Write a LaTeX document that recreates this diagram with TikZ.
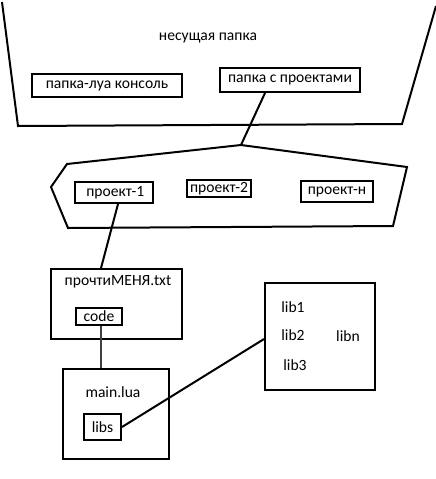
\documentclass[tikz,border=0pt]{standalone}
\usepackage{fontspec}
\setmainfont{Carlito}
\begin{document}
\begin{tikzpicture}[x=0.75pt,y=-0.75pt,
  line width=1.5pt, line join=miter,
  box/.style={draw=black, line width=1.5pt, inner sep=0pt, font=\fontsize{11.7}{14}\selectfont},
  lbl/.style={inner sep=0pt, font=\fontsize{11.7}{14}\selectfont},
  conn/.style={draw=black, line width=1.5pt}]
\useasboundingbox (0,0) rectangle (436,479);
% outer carrier folder (trapezoid)
\draw (2,2) -- (18,126) -- (402,124) -- (436,6);
\node[lbl] (title) at (208,38) {несущая папка};
\node[box, minimum width=112.5pt, minimum height=17.25pt] (console) at (107,85.5) {папка-луа консоль};
\node[box, minimum width=105pt, minimum height=18pt] (projects) at (290,80) {папка с проектами};
% projects folder (hexagon)
\coordinate (htop) at (241,145);
\draw (htop) -- (407,167) -- (393,226) -- (68,228) -- (51,187) -- (67,164) -- cycle;
\node[box, minimum width=58.5pt, minimum height=15.75pt] (p1) at (114,192.5) {\hspace*{2pt}проект-1};
\node[box, minimum width=48pt, minimum height=12.75pt] (p2) at (219,188.5) {проект-2};
\node[box, minimum width=54pt, minimum height=15.75pt] (pn) at (337,191.5) {проект-н};
\draw[conn] ([xshift=-18.75pt]projects.south) -- (htop);
% readme
\node[box, minimum width=98.25pt, minimum height=52.5pt] (readme) at (116.5,304) {};
\node[lbl] (readmet) at (118,282) {прочтиМЕНЯ.txt};
\node[box, minimum width=34.5pt, minimum height=12.75pt] (code) at (99,316.5) {code};
\draw[conn] ([xshift=3pt]p1.south) -- ([xshift=-11.6pt]readme.north);
% main.lua
\node[box, minimum width=79.5pt, minimum height=67.5pt] (main) at (116,414) {};
\node[lbl] (maint) at (113,392) {main.lua};
\node[box, minimum width=27.75pt, minimum height=19.5pt] (libs) at (102.5,427) {libs};
\draw[conn, draw=black!75] ([xshift=1.5pt]code.south) -- ([xshift=-11.25pt]main.north);
% libraries
\node[box, minimum width=82.5pt, minimum height=80.25pt] (libbox) at (320,336.5) {};
\node[lbl] (lib1) at (293,307) {lib1};
\node[lbl] (lib2) at (293,335) {lib2};
\node[lbl] (lib3) at (295,365) {lib3};
\node[lbl] (libn) at (348,336) {libn};
\draw[conn] (libs.east) -- ([yshift=-1.9pt]libbox.west);
\end{tikzpicture}
\end{document}
